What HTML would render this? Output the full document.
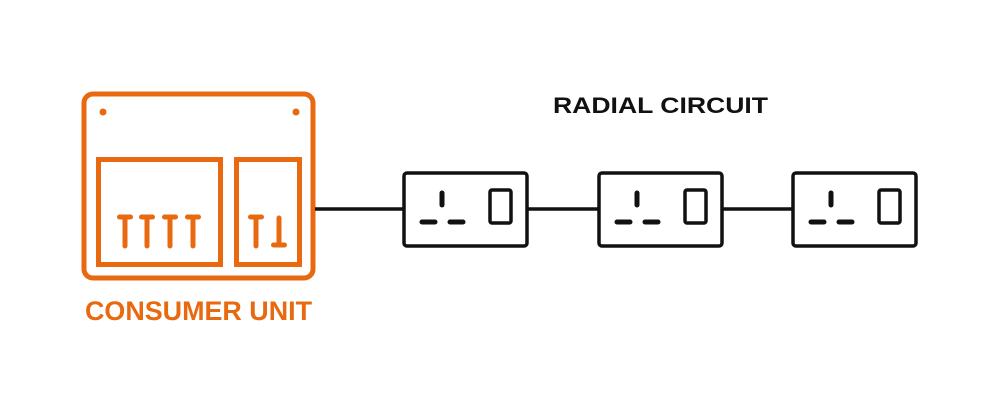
<!DOCTYPE html>
<html><head><meta charset="utf-8"><style>html,body{margin:0;padding:0;background:#fff;}svg{display:block}</style></head>
<body>
<svg width="1000" height="418" viewBox="0 0 1000 418" xmlns="http://www.w3.org/2000/svg">
<g fill="none" stroke="#e8690f" stroke-width="5" stroke-linecap="round">
<rect x="84" y="94" width="229" height="184" rx="9"/>
<rect x="98.5" y="159.5" width="122" height="105"/>
<rect x="236.5" y="159.5" width="63" height="105"/>
<path d="M119.5 217h11M125 217v29M141.5 217h11M147 217v29M164.5 217h11M170 217v29M187.5 217h11M193 217v29M250.5 217h11M256 217v29M279 218v27M273.5 245h11"/>
</g>
<circle cx="103" cy="112" r="3.5" fill="#e8690f"/>
<circle cx="296" cy="112" r="3.5" fill="#e8690f"/>
<text x="85" y="320" font-family="Liberation Sans, sans-serif" font-weight="bold" font-size="27" fill="#e8690f" textLength="227" lengthAdjust="spacingAndGlyphs">CONSUMER UNIT</text>
<text x="553" y="113" font-family="Liberation Sans, sans-serif" font-weight="bold" font-size="22" fill="#111" textLength="215" lengthAdjust="spacingAndGlyphs">RADIAL CIRCUIT</text>
<g stroke="#111" stroke-width="3.5" fill="none" stroke-linecap="round">
<path d="M315 209H403M528 209H598M723 209H792" stroke-linecap="butt"/>
<g id="s">
<rect x="404" y="173" width="123" height="73" rx="3"/>
<path d="M442 193v12" stroke-width="5"/>
<path d="M422 222h13M450 222h13" stroke-width="5"/>
<rect x="490" y="190" width="21" height="33" rx="2"/>
</g>
<use href="#s" x="195"/>
<use href="#s" x="389"/>
</g>
</svg>
</body></html>
